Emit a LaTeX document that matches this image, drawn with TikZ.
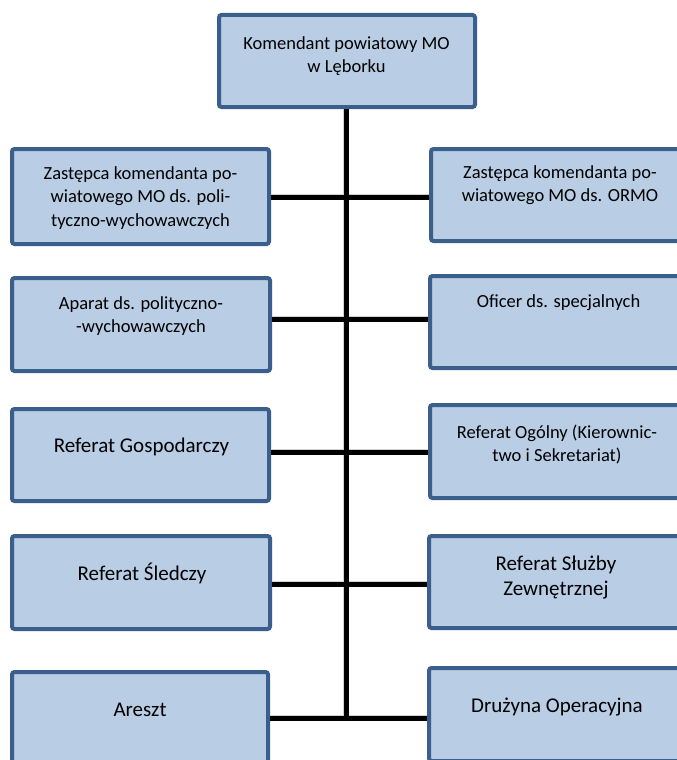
\documentclass[tikz,border=0pt]{standalone}
\usepackage{fontspec}
\setmainfont{Carlito}
\definecolor{boxfill}{HTML}{B9CDE5}
\definecolor{boxline}{HTML}{3A5F8C}
\begin{document}
\begin{tikzpicture}[x=1pt,y=-1pt,
  unit/.style={draw=boxline, fill=boxfill, line width=4pt, rounded corners=2.5pt,
    inner sep=0pt, minimum width=258pt, minimum height=93pt},
  smalltext/.style={font=\fontsize{18.5}{23.5}\selectfont, align=center, anchor=base, inner sep=0pt},
  bigtext/.style={font=\fontsize{21}{25}\selectfont, align=center, anchor=base, inner sep=0pt},
  link/.style={line width=5pt, black},
  linkshadow/.style={line width=6pt, black!18, shift={(1pt,-2.5pt)}}]
\useasboundingbox (0,0) rectangle (677,760);
\clip (0,0) rectangle (677,760);
\fill[white] (0,0) rectangle (677,760);

% spine junctions
\coordinate (j1) at (346,197);
\coordinate (j2) at (346,319);
\coordinate (j3) at (346,452);
\coordinate (j4) at (346,584);
\coordinate (j5) at (346,718);

% boxes
\node[unit, minimum width=256pt, minimum height=92pt] (top) at (347,61) {};
\node[unit, minimum width=257pt, minimum height=95pt] (L1) at (140.5,196.5) {};
\node[unit, minimum height=92pt] (R1) at (560,195) {};
\node[unit] (L2) at (141,324.5) {};
\node[unit, minimum height=92pt] (R2) at (559,322) {};
\node[unit, minimum width=257pt, minimum height=92pt] (L3) at (140.5,455) {};
\node[unit] (R3) at (559,451.5) {};
\node[unit] (L4) at (141,582.5) {};
\node[unit, minimum height=92pt] (R4) at (558,582) {};
\node[unit, minimum width=256pt] (L5) at (140,718.5) {};
\node[unit] (R5) at (558,714.5) {};

% connectors (shadow then line)
\draw[linkshadow] (j5 |- top.south) -- (j5);
\draw[linkshadow] (L1.east |- j1) -- (R1.west |- j1);
\draw[linkshadow] (L2.east |- j2) -- (R2.west |- j2);
\draw[linkshadow] (L3.east |- j3) -- (R3.west |- j3);
\draw[linkshadow] (L4.east |- j4) -- (R4.west |- j4);
\draw[linkshadow] (L5.east |- j5) -- (R5.west |- j5);
\draw[link] (j5 |- top.south) -- (j5);
\draw[link] (L1.east |- j1) -- (R1.west |- j1);
\draw[link] (L2.east |- j2) -- (R2.west |- j2);
\draw[link] (L3.east |- j3) -- (R3.west |- j3);
\draw[link] (L4.east |- j4) -- (R4.west |- j4);
\draw[link] (L5.east |- j5) -- (R5.west |- j5);

% texts (base anchor = baseline of the last line)
\node[smalltext] (ttop) at (346.5,72.5) {Komendant powiatowy MO\\w Lęborku};
\node[smalltext] (tL1) at (140.5,226) {Zastępca komendanta po-\\wiatowego MO ds. poli-\\tyczno-wychowawczych};
\node[smalltext] (tR1) at (560,201.5) {Zastępca komendanta po-\\wiatowego MO ds. ORMO};
\node[smalltext] (tL2) at (141,332.5) {Aparat ds. polityczno-\\-wychowawczych};
\node[smalltext] (tR2) at (558.5,307) {Oficer ds. specjalnych};
\node[bigtext] (tL3) at (141.5,452) {Referat Gospodarczy};
\node[smalltext] (tR3) at (557,461.5) {Referat Ogólny (Kierownic-\\two i Sekretariat)};
\node[bigtext] (tL4) at (142,580) {Referat Śledczy};
\node[bigtext] (tR4) at (556,595) {Referat Służby\\Zewnętrznej};
\node[bigtext] (tL5) at (140,716) {Areszt};
\node[bigtext] (tR5) at (557,712) {Drużyna Operacyjna};
\end{tikzpicture}
\end{document}
